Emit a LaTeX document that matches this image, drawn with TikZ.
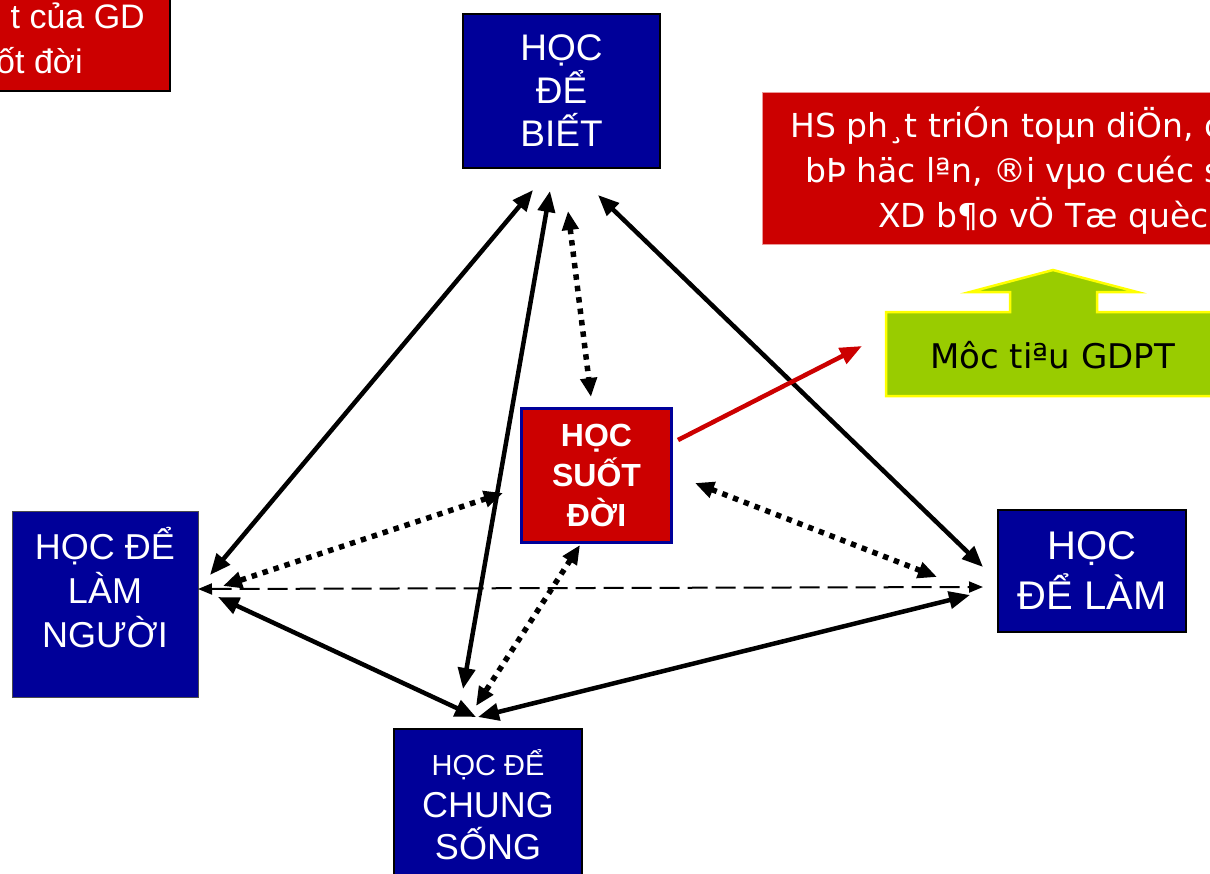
\documentclass[tikz,border=0pt]{standalone}
\usepackage{fontspec}
\setmainfont{Liberation Sans}
\newfontfamily\dejavu{DejaVu Sans}
\usetikzlibrary{arrows.meta}
\definecolor{navy}{HTML}{000099}
\definecolor{redbox}{HTML}{CC0000}
\definecolor{lime}{HTML}{99CC00}
\definecolor{yel}{HTML}{FFFF00}
\tikzset{
  bluebox/.style={draw=black, line width=1.5pt, fill=navy, text=white, align=center, inner sep=0pt},
  solidarr/.style={line width=4.5pt, {Triangle[length=21pt,width=17pt]}-{Triangle[length=21pt,width=17pt]}},
  dotarr/.style={line width=5.5pt, dash pattern=on 5.5pt off 6pt, {Triangle[length=19pt,width=16pt]}-{Triangle[length=19pt,width=16pt]}},
  dasharr/.style={line width=2pt, dash pattern=on 20pt off 8pt, {Triangle[length=14pt,width=11pt]}-{Triangle[length=14pt,width=11pt]}},
  redarr/.style={line width=4.5pt, draw=redbox, -{Triangle[length=22pt,width=17pt]}},
}
\begin{document}
\begin{tikzpicture}[x=1pt,y=-1pt]
\useasboundingbox (0,0) rectangle (1210,873);
\clip (0,0) rectangle (1210,873);
\fill[white] (0,0) rectangle (1210,873);

% top-left red box
\draw[fill=redbox, draw=black, line width=1.5pt] (-20,-20) rectangle (170,91);
\node[anchor=base east, text=white, font=\fontsize{34}{44}\selectfont, inner sep=0pt] (tl1) at (145,28) {t của GD};
\node[anchor=base east, text=white, font=\fontsize{34}{44}\selectfont, inner sep=0pt] (tl2) at (83,73) {ốt đời};

% top box
\node[bluebox, minimum width=197pt, minimum height=154pt, font=\fontsize{37}{43}\selectfont] (biet) at (561.5,91) {HỌC\\ĐỂ\\BIẾT};

% right red box with text
\draw[fill=redbox, draw=redbox!40, line width=1pt] (762,92) rectangle (1240,244);
\node[anchor=base west, text=white, font=\dejavu\fontsize{33}{40}\selectfont, inner sep=0pt] (m1) at (790,137) {HS ph¸t triÓn toµn diÖn, c};
\node[anchor=base west, text=white, font=\dejavu\fontsize{33}{40}\selectfont, inner sep=0pt] (m2) at (805,182) {bÞ häc lªn, ®i vµo cuéc s};
\node[anchor=base west, text=white, font=\dejavu\fontsize{33}{40}\selectfont, inner sep=0pt] (m3) at (878,227) {XD b¶o vÖ Tæ quèc};

% green callout
\draw[fill=lime, draw=yel, line width=2.5pt, line join=miter]
  (886,312) -- (1010,312) -- (1010,292) -- (970,292) -- (1053,270) -- (1137,292)
  -- (1097,292) -- (1097,312) -- (1240,312) -- (1240,396) -- (886,396) -- cycle;
\node[anchor=base west, text=black, font=\dejavu\fontsize{34}{40}\selectfont, inner sep=0pt] (muc) at (930,368) {Môc tiªu GDPT};

% centre box
\node[draw=navy, line width=3pt, fill=redbox, text=white, align=center, inner sep=0pt,
      minimum width=150pt, minimum height=134pt, font=\bfseries\fontsize{32}{40}\selectfont] (suot) at (596.5,475.5) {HỌC\\SUỐT\\ĐỜI};

% left box
\node[draw=black!70, line width=1pt, fill=navy, minimum width=186pt, minimum height=186pt, inner sep=0pt] (nguoi) at (105,604) {};
\node[text=white, align=center, font=\fontsize{36}{44}\selectfont, inner sep=0pt] (nguoiT) at (105,588) {HỌC ĐỂ\\LÀM\\NGƯỜI};

% right box
\node[bluebox, minimum width=188pt, minimum height=122pt, font=\fontsize{40}{50}\selectfont] (lam) at (1092,571) {HỌC\\ĐỂ LÀM};

% bottom box
\node[draw=black, line width=1.5pt, fill=navy, minimum width=188pt, minimum height=162pt, inner sep=0pt] (chung) at (488,810) {};
\node[text=white, align=center, font=\fontsize{36}{42}\selectfont, inner sep=0pt] (chungT) at (488,805) {{\fontsize{29}{35}\selectfont HỌC ĐỂ}\\CHUNG\\SỐNG};

% arrow end points
\coordinate (a1s) at (210,575); \coordinate (a1e) at (533,190);
\coordinate (a2s) at (550,191); \coordinate (a2e) at (463,689);
\coordinate (a3s) at (598,195); \coordinate (a3e) at (983,567);
\coordinate (a4s) at (218,597); \coordinate (a4e) at (476,717);
\coordinate (a5s) at (478,717); \coordinate (a5e) at (970,595);
\coordinate (dls) at (198,589); \coordinate (dle) at (983,587);
\coordinate (d1s) at (568,211); \coordinate (d1e) at (591,397);
\coordinate (d2s) at (503,493); \coordinate (d2e) at (223,586);
\coordinate (d3s) at (695,483); \coordinate (d3e) at (937,577);
\coordinate (d4s) at (580,545); \coordinate (d4e) at (476,706);
\coordinate (rs) at (678,440); \coordinate (re) at (862,346);

\draw[solidarr] (a1s) -- (a1e);
\draw[solidarr] (a2s) -- (a2e);
\draw[solidarr] (a3s) -- (a3e);
\draw[solidarr] (a4s) -- (a4e);
\draw[solidarr] (a5s) -- (a5e);
\draw[dasharr] (dls) -- (dle);
\draw[dotarr] (d1s) -- (d1e);
\draw[dotarr] (d2s) -- (d2e);
\draw[dotarr] (d3s) -- (d3e);
\draw[dotarr] (d4s) -- (d4e);
\draw[redarr] (rs) -- (re);
\end{tikzpicture}
\end{document}
